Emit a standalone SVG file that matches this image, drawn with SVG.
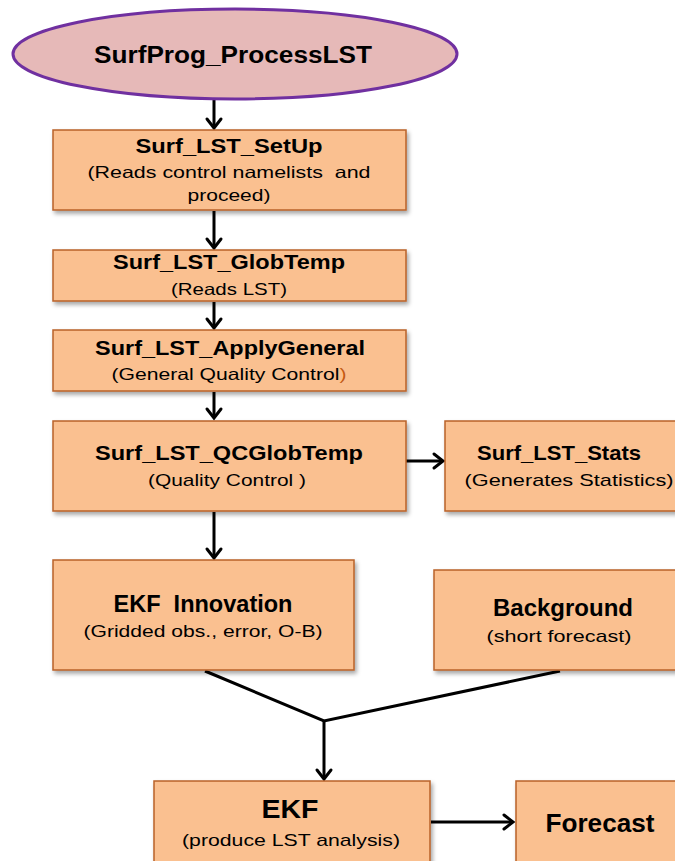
<svg xmlns="http://www.w3.org/2000/svg" width="675" height="861" viewBox="0 0 675 861">
<defs>
<filter id="sh" x="-10%" y="-10%" width="125%" height="130%">
<feDropShadow dx="2" dy="3" stdDeviation="2" flood-color="#000" flood-opacity="0.35"/>
</filter>
<marker id="ah" markerUnits="userSpaceOnUse" markerWidth="24" markerHeight="24" viewBox="-12 -12 24 24" refX="0" refY="0" orient="auto" overflow="visible">
<path d="M-9,-7 L0,0 L-9,7" fill="none" stroke="#000" stroke-width="3" stroke-linecap="round" stroke-linejoin="miter"/>
</marker>
</defs>
<style>
.box{fill:#fac090;stroke:#b9622a;stroke-width:1.5;filter:url(#sh);}
.t{font-family:"Liberation Sans",Arial,sans-serif;font-weight:bold;fill:#000;text-anchor:middle;white-space:pre;}
.s{font-family:"Liberation Sans",Arial,sans-serif;fill:#000;text-anchor:middle;white-space:pre;}
.c{fill:none;stroke:#000;stroke-width:3;}
</style>
<rect width="675" height="861" fill="#fff"/>
<g id="connectors">
<line class="c" x1="214" y1="100" x2="214" y2="128" marker-end="url(#ah)"/>
<line class="c" x1="214" y1="211" x2="214" y2="248" marker-end="url(#ah)"/>
<line class="c" x1="214" y1="302" x2="214" y2="328" marker-end="url(#ah)"/>
<line class="c" x1="214" y1="392" x2="214" y2="418" marker-end="url(#ah)"/>
<line class="c" x1="214" y1="512" x2="214" y2="558" marker-end="url(#ah)"/>
<line class="c" x1="406" y1="461" x2="443" y2="461" marker-end="url(#ah)"/>
<polyline class="c" points="205,671 324,721 560,671"/>
<line class="c" x1="324" y1="721" x2="324" y2="779" marker-end="url(#ah)"/>
<line class="c" x1="431" y1="822" x2="513" y2="822" marker-end="url(#ah)"/>
</g>
<g id="n_start">
<ellipse cx="235" cy="54" rx="222" ry="45" fill="#e6b9b8" stroke="#7030a0" stroke-width="3"/>
<text class="t" x="233" y="63" font-size="23" textLength="278" lengthAdjust="spacingAndGlyphs">SurfProg_ProcessLST</text>
</g>
<g id="n_setup">
<rect class="box" x="53" y="130" width="353" height="80"/>
<text class="t" x="229" y="153" font-size="21" textLength="187" lengthAdjust="spacingAndGlyphs">Surf_LST_SetUp</text>
<text class="s" x="229" y="178" font-size="16.5" textLength="283" lengthAdjust="spacingAndGlyphs" xml:space="preserve">(Reads control namelists  and</text>
<text class="s" x="229" y="201" font-size="16.5" textLength="83" lengthAdjust="spacingAndGlyphs">proceed)</text>
</g>
<g id="n_globtemp">
<rect class="box" x="53" y="250" width="353" height="51"/>
<text class="t" x="229" y="269" font-size="20" textLength="232" lengthAdjust="spacingAndGlyphs">Surf_LST_GlobTemp</text>
<text class="s" x="229" y="295" font-size="16.5" textLength="116" lengthAdjust="spacingAndGlyphs">(Reads LST)</text>
</g>
<g id="n_applygeneral">
<rect class="box" x="53" y="330" width="353" height="61"/>
<text class="t" x="230" y="355" font-size="20" textLength="270" lengthAdjust="spacingAndGlyphs">Surf_LST_ApplyGeneral</text>
<text class="s" x="229" y="380" font-size="16.5" textLength="235" lengthAdjust="spacingAndGlyphs">(General Quality Control<tspan fill="#c55a11">)</tspan></text>
</g>
<g id="n_qc">
<rect class="box" x="53" y="421" width="353" height="90"/>
<text class="t" x="229" y="460" font-size="21" textLength="268" lengthAdjust="spacingAndGlyphs">Surf_LST_QCGlobTemp</text>
<text class="s" x="227" y="486" font-size="17" textLength="158" lengthAdjust="spacingAndGlyphs">(Quality Control )</text>
</g>
<g id="n_stats">
<rect class="box" x="445" y="421" width="240" height="90"/>
<text class="t" x="559" y="460" font-size="21" textLength="164" lengthAdjust="spacingAndGlyphs">Surf_LST_Stats</text>
<text class="s" x="569" y="486" font-size="17" textLength="209" lengthAdjust="spacingAndGlyphs">(Generates Statistics)</text>
</g>
<g id="n_innovation">
<rect class="box" x="53" y="560" width="301" height="110"/>
<text class="t" x="203" y="612" font-size="23" textLength="179" lengthAdjust="spacingAndGlyphs" xml:space="preserve">EKF  Innovation</text>
<text class="s" x="203" y="637" font-size="17" textLength="239" lengthAdjust="spacingAndGlyphs">(Gridded obs., error, O-B)</text>
</g>
<g id="n_background">
<rect class="box" x="434" y="570" width="251" height="100"/>
<text class="t" x="563" y="616" font-size="23" textLength="140" lengthAdjust="spacingAndGlyphs">Background</text>
<text class="s" x="559" y="642" font-size="17" textLength="145" lengthAdjust="spacingAndGlyphs">(short forecast)</text>
</g>
<g id="n_ekf">
<rect class="box" x="154" y="781" width="276" height="90"/>
<text class="t" x="290" y="818" font-size="25" textLength="57" lengthAdjust="spacingAndGlyphs">EKF</text>
<text class="s" x="291" y="846" font-size="17" textLength="218" lengthAdjust="spacingAndGlyphs">(produce LST analysis)</text>
</g>
<g id="n_forecast">
<rect class="box" x="516" y="781" width="170" height="90"/>
<text class="t" x="600" y="832" font-size="25" textLength="109" lengthAdjust="spacingAndGlyphs">Forecast</text>
</g>
</svg>
